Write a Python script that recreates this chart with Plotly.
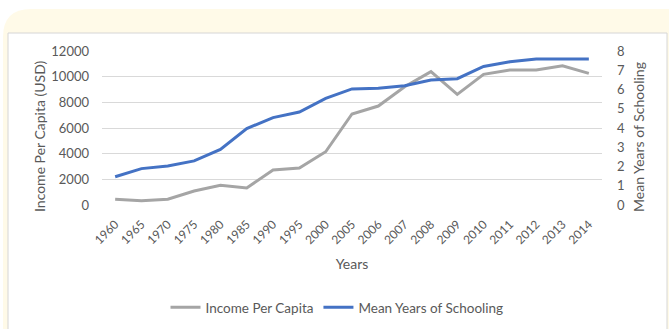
import plotly.graph_objects as go

years = ["1960", "1965", "1970", "1975", "1980", "1985", "1990", "1995", "2000",
         "2005", "2006", "2007", "2008", "2009", "2010", "2011", "2012", "2013", "2014"]
income = [450, 330, 450, 1090, 1530, 1330, 2730, 2880, 4150,
          7090, 7710, 9220, 10390, 8620, 10180, 10520, 10520, 10850, 10260]
schooling = [1.47, 1.89, 2.03, 2.29, 2.89, 3.97, 4.54, 4.83, 5.54,
             6.03, 6.06, 6.20, 6.49, 6.56, 7.20, 7.44, 7.58, 7.58, 7.58]

W, H = 669, 329
ML, MR, MT, MB = 102, 67, 51, 124
PW, PH = W - ML - MR, H - MT - MB

def px(x):
    return (x - ML) / PW

def py(y):
    return (H - MB - y) / PH

FONT = "Lato"
GREY = "#595959"

fig = go.Figure()
fig.add_trace(go.Scatter(x=years, y=income, name="Income Per Capita", mode="lines",
                         line=dict(color="#A5A5A5", width=3)))
fig.add_trace(go.Scatter(x=years, y=schooling, name="Mean Years of Schooling", mode="lines",
                         yaxis="y2", line=dict(color="#4472C4", width=3)))

# yellow rounded card
r = 28
x0, y0, x1, y1 = 3, 9, 700, 360
path = (f"M {px(x0)},{py(y0 + r)} "
        f"Q {px(x0)},{py(y0)} {px(x0 + r)},{py(y0)} "
        f"L {px(x1)},{py(y0)} L {px(x1)},{py(y1)} L {px(x0)},{py(y1)} Z")
shapes = [
    dict(type="path", path=path, xref="paper", yref="paper", fillcolor="#FFFAE8",
         line=dict(width=0), layer="below"),
    dict(type="rect", xref="paper", yref="paper", x0=px(8), x1=px(667), y0=py(33), y1=py(340),
         fillcolor="white", line=dict(color="#D6D6D6", width=1), layer="below"),
]

annotations = [
    dict(text="Income Per Capita (USD)", xref="paper", yref="paper", x=px(39), y=py(136),
         xanchor="center", yanchor="middle", textangle=-90, showarrow=False,
         font=dict(size=14, color=GREY)),
    dict(text="Mean Years of Schooling", xref="paper", yref="paper", x=px(638), y=py(137),
         xanchor="center", yanchor="middle", textangle=-90, showarrow=False,
         font=dict(size=14, color=GREY)),
]

fig.update_layout(
    width=W, height=H,
    margin=dict(l=ML, r=MR, t=MT, b=MB, autoexpand=False),
    paper_bgcolor="white", plot_bgcolor="rgba(0,0,0,0)",
    font=dict(family=FONT, color=GREY, size=13),
    shapes=shapes,
    annotations=annotations,
    showlegend=True,
    legend=dict(orientation="h", x=px(337), xanchor="center", y=py(292), yanchor="top",
                font=dict(size=13.5, color=GREY), bgcolor="rgba(0,0,0,0)",
                itemwidth=30, tracegroupgap=0),
    xaxis=dict(type="category", range=[-0.5, 18.5], showgrid=False, zeroline=False,
               showline=False, tickangle=-45, tickfont=dict(size=12, color=GREY),
               ticklabelstandoff=9,
               title=dict(text="Years", font=dict(size=14, color=GREY), standoff=13)),
    yaxis=dict(range=[0, 12000], dtick=2000, tickformat="d", showgrid=True,
               gridcolor="#D9D9D9", gridwidth=1,
               zeroline=False, showline=False, tickfont=dict(size=13, color=GREY),
               ticklabelstandoff=12),
    yaxis2=dict(range=[0, 8], dtick=1, overlaying="y", side="right", showgrid=False,
                zeroline=False, showline=False, tickfont=dict(size=13, color=GREY),
                ticklabelstandoff=14),
)

fig.write_html("out.html")
